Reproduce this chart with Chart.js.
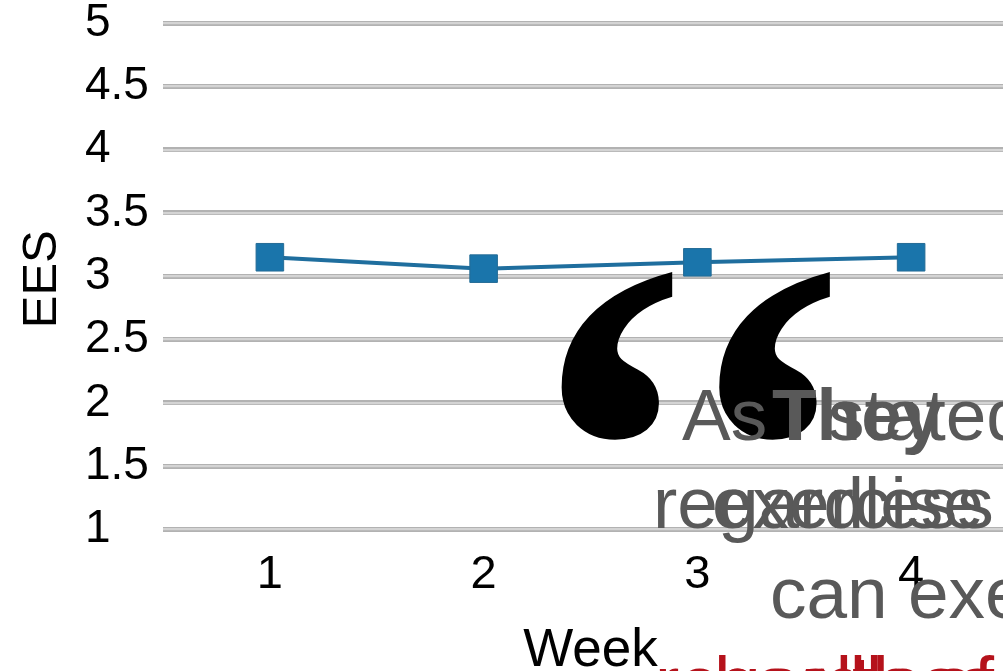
<!DOCTYPE html>
<html>
<head>
<meta charset="utf-8">
<script src="https://cdn.jsdelivr.net/npm/chart.js@4/dist/chart.umd.min.js"></script>
<style>
  html, body { margin: 0; padding: 0; background: #fff; overflow: hidden; width: 1003px; height: 671px; }
  #wrap { position: absolute; left: 0; top: 0; width: 1040px; height: 700px; }
  .txt { position: absolute; white-space: pre; line-height: 1; font-family: "Liberation Sans", Arial, sans-serif; font-size: 73px; color: #595959; }
  .bold { font-weight: bold; }
  .red { color: #b5121b; }
  .mark { position: absolute; white-space: pre; line-height: 1; font-family: "Liberation Serif", "Times New Roman", serif; font-weight: bold; font-size: 555px; letter-spacing: 14px; color: #000; }
</style>
</head>
<body>
<div id="wrap"><canvas id="chart"></canvas></div>

<!-- quotation slide text layered over the chart -->
<div class="mark" style="left:518px; top:176px;">‘‘</div>
<div class="txt" style="left:682px; top:378px;">As I stated</div>
<div class="txt bold" style="left:772px; top:378px;">They</div>
<div class="txt" style="left:653px; top:466px;">regardless</div>
<div class="txt" style="left:712px; top:466px;">exercise</div>
<div class="txt" style="left:770px; top:556px;">can exercise</div>
<div class="txt red" style="left:655px; top:645px;">regardless of</div>
<div class="txt red" style="left:714px; top:645px;">health of</div>

<script>
const weeks = ['1', '2', '3', '4'];
const eesValues = [3.15, 3.06, 3.11, 3.15];
const xTitle = 'Week';
const yTitle = 'EES';
const yMin = 1;
const yMax = 5;
const yStep = 0.5;

const FONT = '"Liberation Sans", Arial, sans-serif';

// rotated y-axis title drawn at the far left, tick labels sit to its right
const yTitlePlugin = {
  id: 'yTitleLeft',
  afterDraw(chart) {
    const { ctx, chartArea } = chart;
    ctx.save();
    ctx.translate(42, (chartArea.top + chartArea.bottom) / 2 + 3);
    ctx.rotate(-Math.PI / 2);
    ctx.font = '49px ' + FONT;
    ctx.fillStyle = '#000';
    ctx.textAlign = 'center';
    ctx.textBaseline = 'middle';
    ctx.fillText(yTitle, 0, 0);
    ctx.restore();
  }
};

new Chart(document.getElementById('chart'), {
  type: 'line',
  data: {
    labels: weeks,
    datasets: [{
      label: yTitle,
      data: eesValues,
      borderColor: '#1f6e9e',
      borderWidth: 4,
      backgroundColor: '#1a75ab',
      pointStyle: 'rect',
      pointRadius: 19.5,
      pointBorderWidth: 1,
      pointBorderColor: '#256c96',
      pointBackgroundColor: '#1a75ab',
      tension: 0
    }]
  },
  options: {
    responsive: true,
    maintainAspectRatio: false,
    animation: false,
    layout: { padding: { left: 85, top: 23, right: 22, bottom: 22.5 } },
    plugins: { legend: { display: false }, tooltip: { enabled: false } },
    scales: {
      x: {
        offset: true,
        grid: { display: false, drawTicks: false },
        border: { display: false },
        ticks: { color: '#000', padding: 22, maxRotation: 0, font: { family: FONT, size: 47, lineHeight: 1 } },
        title: { display: true, text: xTitle, color: '#000', padding: { top: 24, bottom: 0 }, font: { family: FONT, size: 53, lineHeight: 1 } },
        afterFit(scale) { scale.height = 148; }
      },
      y: {
        min: yMin,
        max: yMax,
        ticks: {
          stepSize: yStep, color: '#000', padding: 0, crossAlign: 'far',
          font: { family: FONT, size: 46, lineHeight: 1 },
          callback: (value) => String(Number(value))
        },
        grid: { color: '#b2b2b2', lineWidth: 5, drawTicks: false },
        border: { display: false },
        afterFit(scale) { scale.width = 78; }
      },
      // same ticks again: a lighter, thinner stroke gives the gridlines their inner highlight
      yInner: {
        position: 'left',
        min: yMin,
        max: yMax,
        ticks: { stepSize: yStep, display: false },
        grid: { color: '#d4d4d4', lineWidth: 2.2, drawTicks: false },
        border: { display: false },
        afterFit(scale) { scale.width = 0; }
      }
    }
  },
  plugins: [yTitlePlugin]
});
</script>
</body>
</html>
